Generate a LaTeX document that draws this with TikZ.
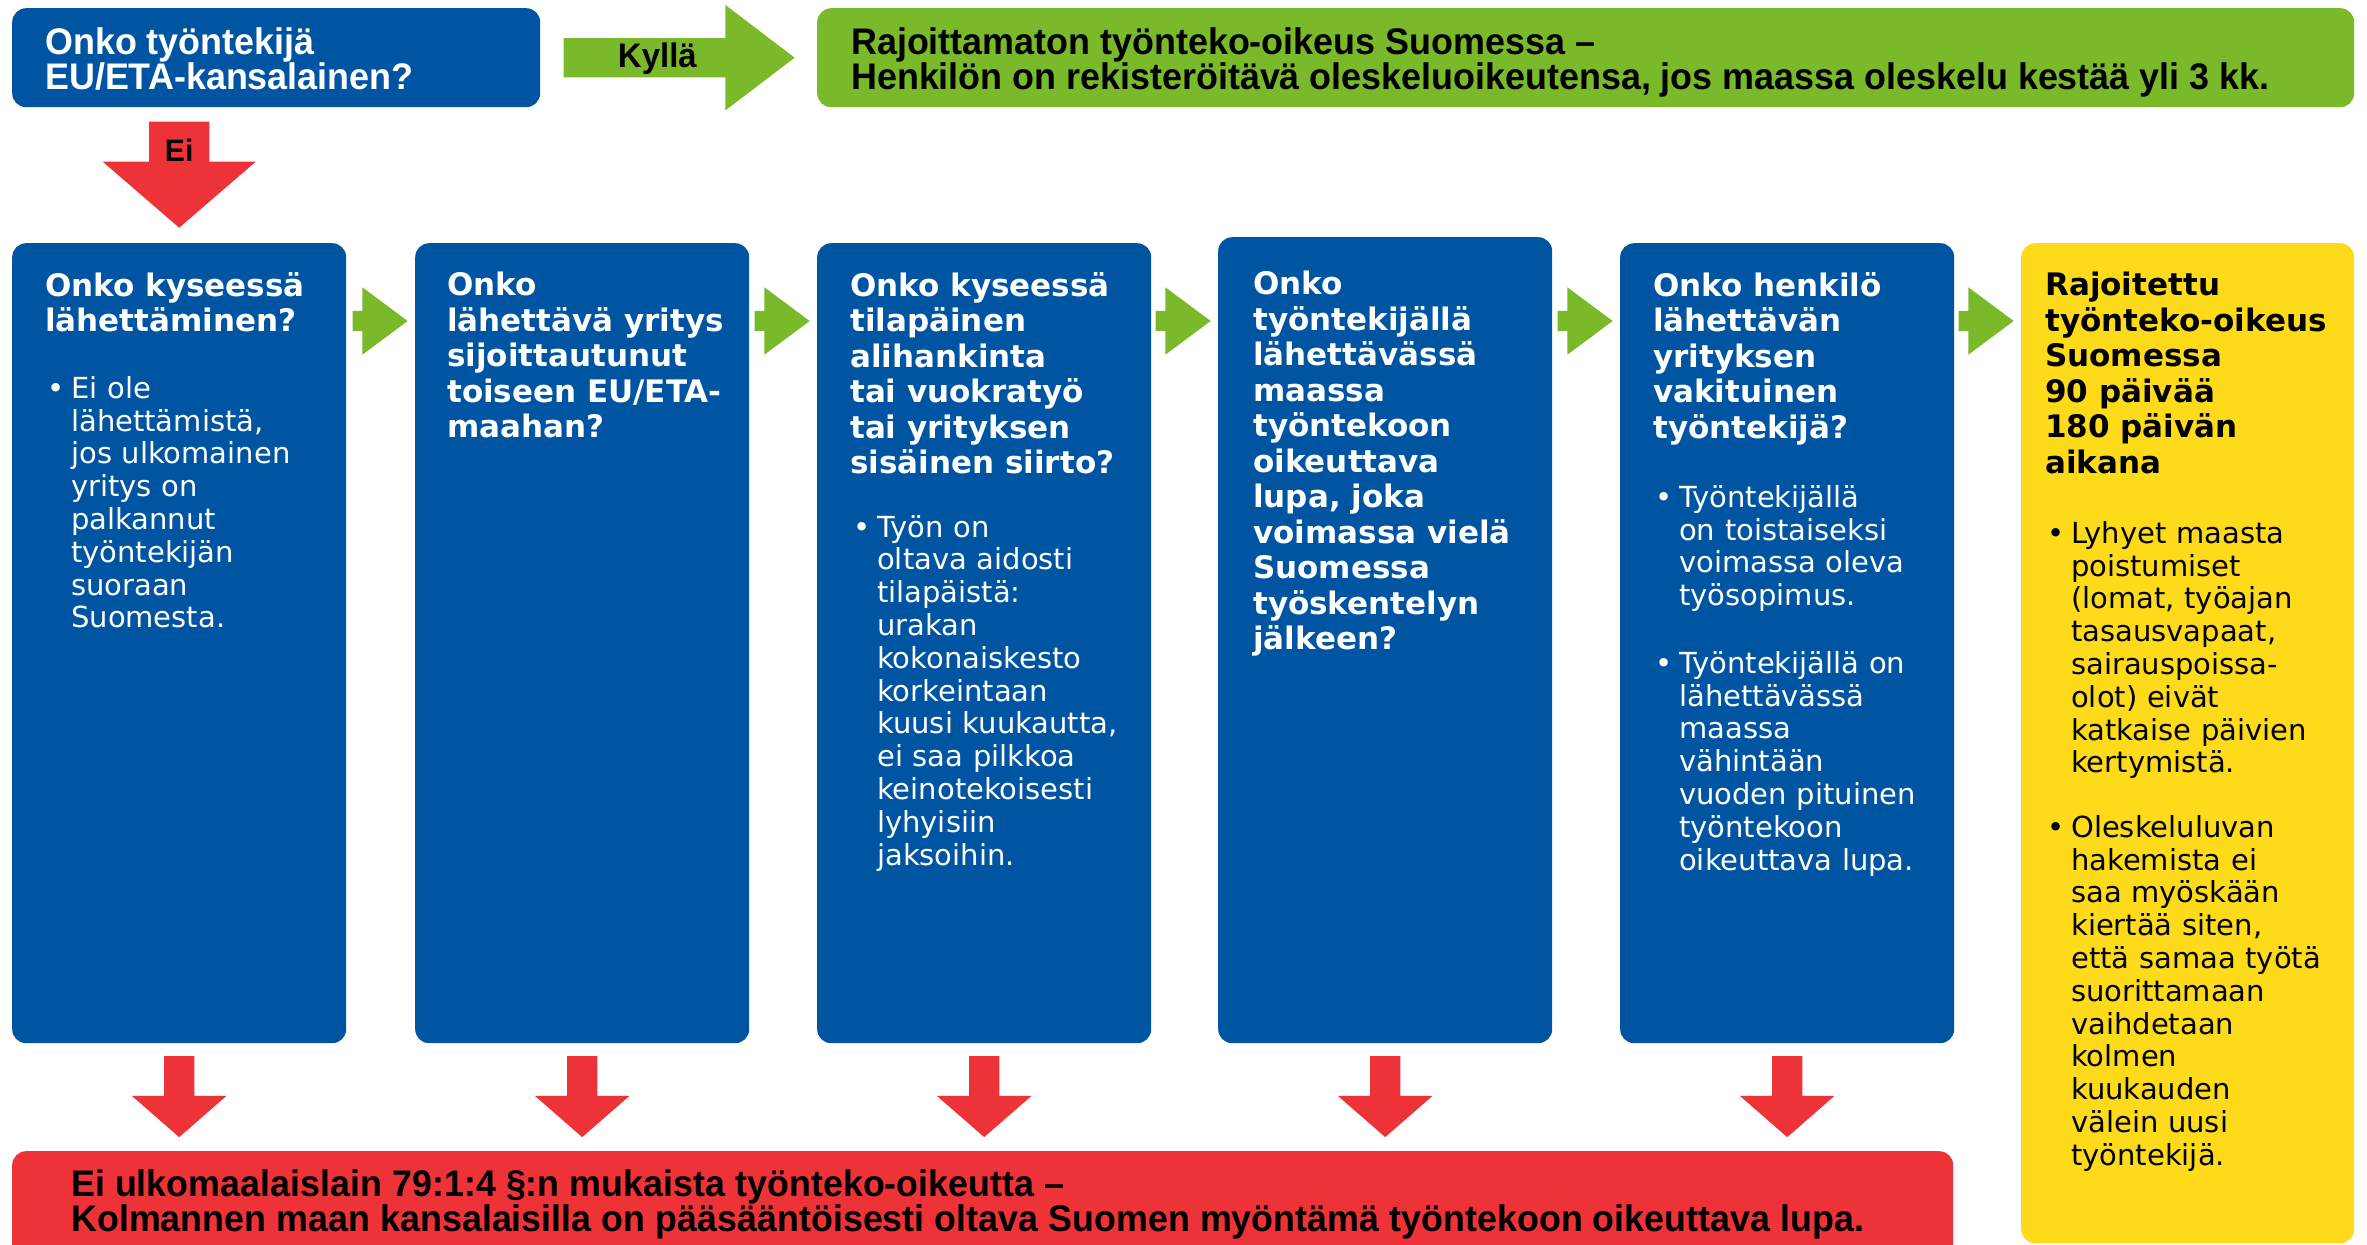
\documentclass[tikz,border=0pt]{standalone}
\usepackage{fontspec}
\setmainfont{DejaVu Sans}
\newfontfamily\mvnarrow{Liberation Sans}[FakeStretch=0.97]
\usepackage{tikz}
\usetikzlibrary{calc,positioning,shapes.arrows}
\definecolor{mvblue}  {HTML}{0055A2}
\definecolor{mvgreen} {HTML}{7AB929}
\definecolor{mvred}   {HTML}{EE3338}
\definecolor{mvyellow}{HTML}{FDDB1B}
\newcommand{\mvitem}[1]{\hangindent=24pt\hangafter=1\noindent\makebox[24pt][l]{\textbullet}#1\par}
\tikzset{
  mvbox/.style={rounded corners=14pt, inner sep=0pt, anchor=north west},
  mvcol/.style={mvbox, fill=mvblue, minimum width=334pt, minimum height=800pt},
  mvhead/.style={anchor=north west, inner sep=0pt, align=left, text=white,
                 font=\fontsize{31}{35.5}\selectfont\bfseries},
  mvbody/.style={anchor=north west, inner sep=0pt, align=left, text=white,
                 text width=300pt, font=\fontsize{29}{32.8}\selectfont},
  mvbanner/.style={anchor=north west, inner sep=0pt, align=left,
                   font=\mvnarrow\bfseries\fontsize{37}{35}\selectfont},
  mvtag/.style={inner sep=0pt, font=\mvnarrow\bfseries\fontsize{34}{34}\selectfont},
  mvarrow/.style={single arrow, inner sep=0pt, anchor=tip},
  mvyes/.style={mvarrow, fill=mvgreen, inner sep=19.5pt, minimum height=231pt,
                single arrow head extend=33pt, single arrow tip angle=74.6},
  mvno/.style={mvarrow, fill=mvred, shape border rotate=270, inner sep=30pt,
               minimum height=106pt, single arrow head extend=46.5pt,
               single arrow tip angle=98.4},
  mvnext/.style={mvarrow, fill=mvgreen, inner sep=10pt, minimum height=55pt,
                 single arrow head extend=23.5pt, single arrow tip angle=73.3},
  mvdown/.style={mvarrow, fill=mvred, shape border rotate=270, inner sep=15pt,
                 minimum height=81pt, single arrow head extend=32pt,
                 single arrow tip angle=97.8},
}

\begin{document}
\begin{tikzpicture}[x=1pt,y=-1pt]
  \useasboundingbox (0,0) rectangle (2367,1245);
  % first question and the EU/ETA answer
  \node[mvbox, fill=mvblue, minimum width=528pt, minimum height=99pt] (eu) at (12,8) {};
  \node[mvbox, fill=mvgreen, minimum width=1537pt, minimum height=99pt] (free) at (817,8) {};
  \node[mvbanner, text=white] (eutxt) at (45,27) {Onko työntekijä\\EU/ETA-kansalainen?};
  \node[mvbanner] (freetxt) at (851,27)
    {Rajoittamaton työnteko-oikeus Suomessa –\\
     Henkilön on rekisteröitävä oleskeluoikeutensa, jos maassa oleskelu kestää yli 3 kk.};
  \node[mvyes, anchor=tail] (yes) at ($(eu.east)+(23,0)$) {};
  \node[mvtag] (yestag) at ($(yes.tail)+(94,1)$) {Kyllä};

  % question columns
  \node[mvcol] (q1) at (12,243) {};
  \node[mvcol] (q2) at (415,243) {};
  \node[mvcol] (q3) at (817,243) {};
  \node[mvcol, minimum height=806pt] (q4) at (1218,237) {};
  \node[mvcol] (q5) at (1620,243) {};
  \node[mvbox, fill=mvyellow, minimum width=333pt, minimum height=1000pt] (q6) at (2021,243) {};
  \node[mvno] (no) at ($(q1.north)+(0,-15)$) {};
  \node[mvtag, font=\mvnarrow\bfseries\fontsize{31}{31}\selectfont] (notag) at ($(no.tail)+(0,29)$) {Ei};

  \coordinate (row) at (0,321);
  \foreach \a/\b in {q1/q2,q2/q3,q3/q4,q4/q5,q5/q6}
    \node[mvnext] (n\a) at ($(\b.west |- row)+(-7,0)$) {};

  \node[mvhead] (h1) at (45,272) {Onko kyseessä\\lähettäminen?};
  \node[mvbody] (b1) at (47,376)
    {\mvitem{Ei ole\newline lähettämistä,\newline jos ulkomainen\newline yritys on\newline
     palkannut\newline työntekijän\newline suoraan\newline Suomesta.}};

  \node[mvhead] (h2) at (447,272)
    {Onko\\lähettävä yritys\\sijoittautunut\\toiseen EU/ETA-\\maahan?};

  \node[mvhead] (h3) at (850,272)
    {Onko kyseessä\\tilapäinen\\alihankinta\\tai vuokratyö\\tai yrityksen\\sisäinen siirto?};
  \node[mvbody] (b3) at (853,515)
    {\mvitem{Työn on\newline oltava aidosti\newline tilapäistä:\newline urakan\newline
     kokonaiskesto\newline korkeintaan\newline kuusi kuukautta,\newline ei saa pilkkoa\newline
     keinotekoisesti\newline lyhyisiin\newline jaksoihin.}};

  \node[mvhead] (h4) at (1253,271)
    {Onko\\työntekijällä\\lähettävässä\\maassa\\työntekoon\\oikeuttava\\lupa, joka\\
     voimassa vielä\\Suomessa\\työskentelyn\\jälkeen?};

  \node[mvhead] (h5) at (1653,272)
    {Onko henkilö\\lähettävän\\yrityksen\\vakituinen\\työntekijä?};
  \node[mvbody] (b5a) at (1655,485)
    {\mvitem{Työntekijällä\newline on toistaiseksi\newline voimassa oleva\newline työsopimus.}};
  \node[mvbody] (b5b) at (1655,651)
    {\mvitem{Työntekijällä on\newline lähettävässä\newline maassa\newline vähintään\newline
     vuoden pituinen\newline työntekoon\newline oikeuttava lupa.}};

  \node[mvhead, text=black] (h6) at (2045,272)
    {Rajoitettu\\työnteko-oikeus\\Suomessa\\90 päivää\\180 päivän\\aikana};
  \node[mvbody, text=black] (b6a) at (2047,521)
    {\mvitem{Lyhyet maasta\newline poistumiset\newline (lomat, työajan\newline tasausvapaat,\newline
     sairauspoissa-\newline olot) eivät\newline katkaise päivien\newline kertymistä.}};
  \node[mvbody, text=black] (b6b) at (2047,815)
    {\mvitem{Oleskeluluvan\newline hakemista ei\newline saa myöskään\newline kiertää siten,\newline
     että samaa työtä\newline suorittamaan\newline vaihdetaan\newline kolmen\newline kuukauden\newline
     välein uusi\newline työntekijä.}};

  % no right to work
  \node[mvbox, fill=mvred, minimum width=1941pt, minimum height=130pt] (fail) at (12,1151) {};
  \foreach \q in {q1,q2,q3,q4,q5}
    \node[mvdown] (d\q) at ($(\q.south)+(0,94)$) {};
  \node[mvbanner] (failtxt) at (71,1169)
    {Ei ulkomaalaislain 79:1:4 §:n mukaista työnteko-oikeutta –\\
     Kolmannen maan kansalaisilla on pääsääntöisesti oltava Suomen myöntämä työntekoon oikeuttava lupa.};
\end{tikzpicture}
\end{document}
